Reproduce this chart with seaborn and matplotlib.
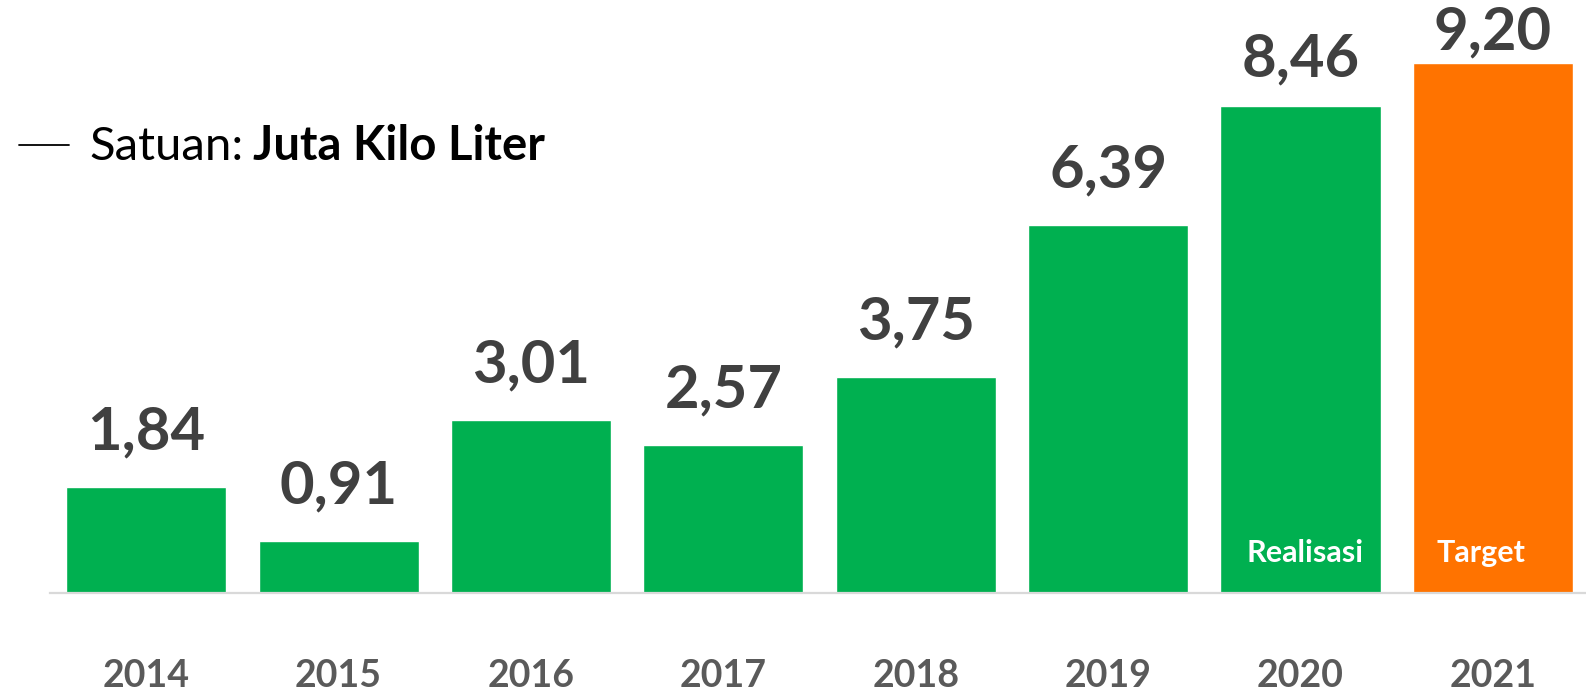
import matplotlib
matplotlib.use("Agg")
import matplotlib.pyplot as plt
from matplotlib.lines import Line2D
import seaborn as sns
import pandas as pd

# Data
years = ["2014", "2015", "2016", "2017", "2018", "2019", "2020", "2021"]
values = [1.84, 0.91, 3.01, 2.57, 3.75, 6.39, 8.46, 9.20]
status = ["Realisasi"] * 7 + ["Target"]
value_labels = ["1,84", "0,91", "3,01", "2,57", "3,75", "6,39", "8,46", "9,20"]

GREEN = "#00B050"
ORANGE = "#FF7300"
VALUE_GRAY = "#404040"
YEAR_GRAY = "#5a5a5a"

sns.set_theme(style="white")
plt.rcParams["font.family"] = ["Lato", "DejaVu Sans"]

DPI = 100
W, H = 1586, 693
fig = plt.figure(figsize=(W / DPI, H / DPI), dpi=DPI)
fig.patch.set_facecolor("white")

# Axes: baseline at 593 px from top, 10 units tall over 576 px
ax = fig.add_axes([50 / W, (H - 593) / H, (W - 50) / W, 576 / H])

df = pd.DataFrame({"year": years, "value": values, "status": status})
sns.barplot(data=df, x="year", y="value", hue="status",
            palette={"Realisasi": GREEN, "Target": ORANGE},
            width=0.832, dodge=False, legend=False, saturation=1,
            ax=ax)

ax.set_xlim(-0.5, 7.484)
ax.set_ylim(0, 10)
ax.set_xlabel("")
ax.set_ylabel("")
ax.set_yticks([])
for side in ("top", "left", "right"):
    ax.spines[side].set_visible(False)
ax.spines["bottom"].set_color("#d9d9d9")
ax.spines["bottom"].set_linewidth(1.6)

# Year labels below the baseline
ax.tick_params(axis="x", length=0, pad=68)
for lbl in ax.get_xticklabels():
    lbl.set_fontsize(27)
    lbl.set_fontweight("bold")
    lbl.set_color(YEAR_GRAY)
    lbl.set_verticalalignment("baseline")

# Value labels above bars (gap in points; tighter near the top edge)
gaps = [27, 27, 27, 27, 27, 27, 21, 9.5]
for i, (v, txt) in enumerate(zip(values, value_labels)):
    ax.annotate(txt, xy=(i, v), xytext=(0, gaps[i]), textcoords="offset points",
                ha="center", va="baseline", fontsize=43, fontweight="bold",
                color=VALUE_GRAY, annotation_clip=False)

# Status captions inside the last bar of each group
last_idx = {s: i for i, s in enumerate(status)}
caption_dx = {"Realisasi": 3, "Target": -8.6}
for s, i in last_idx.items():
    ax.annotate(s, xy=(i, 0), xytext=(caption_dx[s], 22.3), textcoords="offset points",
                ha="center", va="baseline", fontsize=22, fontweight="bold",
                color="white")

# Unit note at top left
fig.add_artist(Line2D([18.6 / W, 68.6 / W], [(H - 145) / H] * 2,
                      color="black", linewidth=1.3, transform=fig.transFigure))
t1 = fig.text(89 / W, (H - 160) / H, "Satuan:", fontsize=34, fontweight="normal",
              color="black", va="baseline", ha="left")
fig.canvas.draw()
bb = t1.get_window_extent()
fig.text((bb.x1 + 10) / W, (H - 160) / H, "Juta Kilo Liter", fontsize=34,
         fontweight="bold", color="black", va="baseline", ha="left")

fig.savefig("out.png", dpi=DPI, facecolor="white")
